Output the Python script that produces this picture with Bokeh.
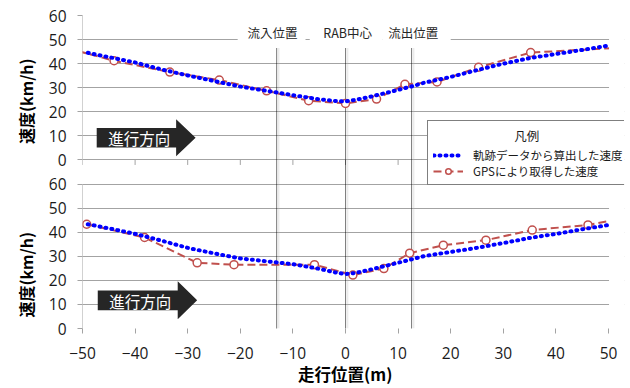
import math
from bokeh.plotting import figure
from bokeh.models import Range1d, FixedTicker, Label, Legend, LegendItem
from bokeh.embed import file_html
from bokeh.resources import INLINE

# ---------------- data ----------------
traj_x = [-49, -45, -40, -35, -30, -25, -20, -15, -10, -5, -2, 0, 2, 5, 8, 12.5, 15, 20, 25, 30, 35, 40, 45, 50]
traj_top = [44.5, 42.7, 40.5, 37.6, 35.1, 32.8, 30.5, 28.7, 26.9, 25.2, 24.5, 24.3, 25.0, 26.4, 28.0, 30.5, 32.1, 34.5, 37.3, 40.0, 42.3, 44.0, 45.7, 47.5]
traj_bot = [43.3, 41.6, 39.3, 36.5, 33.5, 31.2, 29.1, 27.9, 26.7, 24.8, 23.3, 22.6, 23.1, 24.6, 26.2, 28.7, 30.1, 31.8, 33.5, 35.5, 37.6, 39.3, 41.2, 43.0]

gps_top_x = [-53, -44, -33.4, -24, -15, -7, 0, 5.9, 11.3, 17.4, 25.3, 35.2, 52]
gps_top_y = [46.5, 41.2, 36.5, 33.2, 28.7, 24.6, 23.5, 25.3, 31.4, 32.4, 38.5, 44.6, 46.6]
gps_bot_x = [-49.2, -38.2, -28.2, -21.2, -5.9, 1.4, 7.3, 12.2, 18.6, 26.7, 35.5, 46.1, 52]
gps_bot_y = [43.3, 37.8, 27.3, 26.5, 26.5, 22.2, 24.9, 31.3, 34.6, 36.7, 40.9, 43.0, 45.4]

section_x = [-13.1, 0, 12.55]
section_labels = ["流入位置", "RAB中心", "流出位置"]
x_ticks = [-50, -40, -30, -20, -10, 0, 10, 20, 30, 40, 50]
y_ticks = [0, 10, 20, 30, 40, 50, 60]

legend_title = "凡例"
legend_labels = ["軌跡データから算出した速度", "GPSにより取得した速度"]
y_title = "速度(km/h)"
x_title = "走行位置(m)"
arrow_text = "進行方向"

# ---------------- styles ----------------
GRID = "#a3a3a3"
BLUE = "#0000ff"
RED = "#c0504d"
NUM_FONT = "Open Sans"
JP_FONT = "Noto Sans CJK JP"
OFFSET = 70      # top panel sits OFFSET units above the bottom panel
X_MAX = 53.04    # frame extends a little right of 50 so the legend can overhang

p = figure(width=630, height=388, output_backend="svg", toolbar_location=None,
           x_range=Range1d(-50, X_MAX), y_range=Range1d(0, 130),
           min_border_left=82, min_border_right=6, min_border_top=15, min_border_bottom=56)
p.extra_y_ranges = {"top": Range1d(-OFFSET, 130 - OFFSET)}
p.outline_line_color = None
p.background_fill_color = "white"

all_y_ticks = y_ticks + [t + OFFSET for t in y_ticks]
p.yaxis.ticker = FixedTicker(ticks=all_y_ticks)
p.yaxis.major_label_overrides = {t + OFFSET: str(t) for t in y_ticks}
p.yaxis.axis_line_color = None
p.yaxis.major_tick_out = 5
p.yaxis.major_tick_in = 0
p.yaxis.major_tick_line_color = GRID
p.yaxis.minor_tick_line_color = None
p.yaxis.major_label_standoff = 11
# one rotated label carrying both panel titles (ideographic spaces keep them apart)
p.yaxis.axis_label = y_title + "\u3000" * 5 + "\u2002" + y_title + "\u3000" * 2
p.yaxis.axis_label_standoff = 8
p.yaxis.axis_label_text_font = JP_FONT
p.yaxis.axis_label_text_font_size = "16px"
p.yaxis.axis_label_text_font_style = "bold"
p.yaxis.axis_label_text_color = "black"
p.ygrid.ticker = FixedTicker(ticks=all_y_ticks)
p.ygrid.grid_line_color = GRID
p.xgrid.visible = False

p.xaxis.ticker = FixedTicker(ticks=x_ticks)
p.xaxis.axis_line_color = None
p.xaxis.major_tick_out = 5
p.xaxis.major_tick_in = 0
p.xaxis.major_tick_line_color = GRID
p.xaxis.minor_tick_line_color = None
p.xaxis.major_label_standoff = 13
p.xaxis.axis_label = x_title + "\u3000"
p.xaxis.axis_label_standoff = 0
p.xaxis.axis_label_text_font = JP_FONT
p.xaxis.axis_label_text_font_size = "16.5px"
p.xaxis.axis_label_text_font_style = "bold"
p.xaxis.axis_label_text_color = "black"

for ax in (p.xaxis, p.yaxis):
    ax.major_label_text_font = NUM_FONT
    ax.major_label_text_font_size = "15.5px"
    ax.major_label_text_color = "#1a1a1a"

# y axis lines for each panel
p.segment(x0=[-50], y0=[0], x1=[-50], y1=[60], line_color=GRID, line_width=1)
p.segment(x0=[-50], y0=[0], x1=[-50], y1=[60], line_color=GRID, line_width=1, y_range_name="top")
# x-axis ticks of the top panel
p.ray(x=x_ticks, y=[0] * len(x_ticks), length=5, length_units="screen", angle=-math.pi / 2,
      line_color=GRID, line_width=1, y_range_name="top")

# section vertical lines (shadow + dotted)
p.segment(x0=[v + 0.35 for v in section_x], y0=[0] * 3, x1=[v + 0.35 for v in section_x],
          y1=[OFFSET + 46.5] * 3, line_color="#b0b0b0", line_alpha=0.25, line_width=2)
p.segment(x0=section_x, y0=[0] * 3, x1=section_x, y1=[OFFSET + 46.5] * 3,
          line_color="black", line_width=1, line_dash="1 1")

# white boxes behind section labels
p.quad(left=[-20.5, -6.8, 7.1], right=[-7.6, 7.1, 20.0], bottom=[48.8] * 3, top=[56.5] * 3,
       fill_color="white", line_color=None, y_range_name="top")
for sx, lab in zip([-13.9, 0.4, 12.9], section_labels):
    p.add_layout(Label(x=sx, y=53, y_range_name="top", text=lab, text_align="center",
                       text_baseline="middle", text_font=JP_FONT, text_font_size="12.5px",
                       text_color="#262626"))

# direction arrows
p.patch(x=[-47.3, -32.2, -32.2, -28.5, -32.2, -32.2, -47.3], y=[5.2, 5.2, 1.5, 9.2, 16.9, 13.3, 13.3],
        fill_color="#262626", line_color=None, y_range_name="top")
p.patch(x=[-47.1, -31.9, -31.9, -28.2, -31.9, -31.9, -47.1], y=[7.6, 7.6, 3.8, 11.7, 19.6, 15.8, 15.8],
        fill_color="#262626", line_color=None)
p.add_layout(Label(x=-39.2, y=9.0, y_range_name="top", text=arrow_text, text_align="center",
                   text_baseline="middle", text_font=JP_FONT, text_font_size="15.5px", text_color="white"))
p.add_layout(Label(x=-39.0, y=11.5, text=arrow_text, text_align="center",
                   text_baseline="middle", text_font=JP_FONT, text_font_size="15.5px", text_color="white"))

# data: top panel
r_red_top = p.line(gps_top_x, gps_top_y, line_color=RED, line_width=2, line_dash="8 4", y_range_name="top")
r_mk_top = p.scatter(gps_top_x, gps_top_y, marker="circle", size=8, fill_color="white", line_color=RED,
                     line_width=1.5, y_range_name="top")
r_blue_top = p.line(traj_x, traj_top, line_color=BLUE, line_width=4, line_dash="1 5", line_cap="round",
                    y_range_name="top")
# data: bottom panel
p.line(gps_bot_x, gps_bot_y, line_color=RED, line_width=2, line_dash="8 4")
p.scatter(gps_bot_x, gps_bot_y, marker="circle", size=8, fill_color="white", line_color=RED, line_width=1.5)
p.line(traj_x, traj_bot, line_color=BLUE, line_width=4, line_dash="1 5", line_cap="round")

# blank strip right of x=50 (plot area ends at 50; only the legend overhangs)
p.quad(left=[50.1], right=[X_MAX + 1], bottom=[-1], top=[131], fill_color="white", line_color=None)

# legend; leading ideographic spaces centre its title over the box
legend = Legend(items=[LegendItem(label=legend_labels[0], renderers=[r_blue_top]),
                       LegendItem(label=legend_labels[1], renderers=[r_red_top, r_mk_top])],
                location=(345, 143), title="\u3000" * 6 + "\u2002" + legend_title,
                title_text_font=JP_FONT, title_text_font_size="12.5px", title_text_font_style="normal",
                title_text_color="#1a1a1a", title_standoff=2,
                label_text_font=JP_FONT, label_text_font_size="11.5px", label_text_color="#1a1a1a",
                glyph_width=30, glyph_height=14, label_height=14, label_standoff=10, spacing=0,
                padding=5, margin=0, border_line_color="black", border_line_width=1,
                background_fill_color="white", background_fill_alpha=1)
p.add_layout(legend, "center")

open("out.html", "w").write(file_html(p, INLINE))
